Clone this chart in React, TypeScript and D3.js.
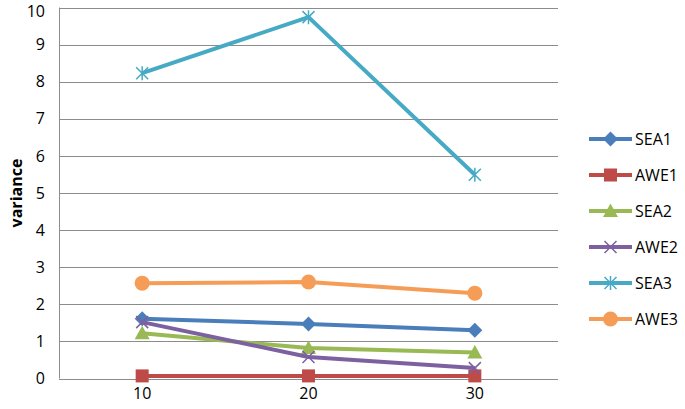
import { useEffect, useRef } from "react";
import * as d3 from "d3";

const categories = ["10", "20", "30"];
const seriesNames = ["SEA1", "AWE1", "SEA2", "AWE2", "SEA3", "AWE3"];
const sea1 = [1.61, 1.47, 1.3];
const awe1 = [0.07, 0.07, 0.07];
const sea2 = [1.22, 0.82, 0.7];
const awe2 = [1.52, 0.58, 0.28];
const sea3 = [8.23, 9.74, 5.49];
const awe3 = [2.57, 2.6, 2.3];
const yTicks = [0, 1, 2, 3, 4, 5, 6, 7, 8, 9, 10];

const colors = ["#4A7EBB", "#BE4B48", "#98B954", "#7D60A0", "#46AAC5", "#F59D56"];
const markers = ["diamond", "square", "triangle", "x", "star", "circle"];

function App() {
  const ref = useRef<HTMLDivElement>(null);

  useEffect(() => {
    const container = d3.select(ref.current);
    container.selectAll("*").remove();

    const width = 685;
    const height = 409;
    const margin = { top: 7.5, right: 127, bottom: 30.5, left: 59 };
    const font = "'Open Sans', 'Liberation Sans', sans-serif";

    const svg = container
      .append("svg")
      .attr("width", width)
      .attr("height", height)
      .style("display", "block")
      .style("background", "#fff");

    const values = [sea1, awe1, sea2, awe2, sea3, awe3];

    const x = d3
      .scalePoint()
      .domain(categories)
      .range([margin.left, width - margin.right])
      .padding(0.5);

    const y = d3
      .scaleLinear()
      .domain([0, 10])
      .range([height - margin.bottom, margin.top]);

    // gridlines
    svg
      .append("g")
      .selectAll("line")
      .data(yTicks)
      .join("line")
      .attr("x1", margin.left)
      .attr("x2", width - margin.right)
      .attr("y1", (d) => Math.round(y(d)) + 0.5)
      .attr("y2", (d) => Math.round(y(d)) + 0.5)
      .attr("stroke", "#8c8c8c")
      .attr("stroke-width", 1);

    svg
      .append("line")
      .attr("x1", margin.left + 0.5)
      .attr("x2", margin.left + 0.5)
      .attr("y1", y(10))
      .attr("y2", y(0))
      .attr("stroke", "#8c8c8c");

    // top label pushed down a little so it stays inside the page
    svg
      .append("g")
      .selectAll("text")
      .data(yTicks)
      .join("text")
      .attr("x", 45)
      .attr("y", (d) => Math.max(y(d), 11.8))
      .attr("dy", "0.35em")
      .attr("text-anchor", "end")
      .style("font-family", font)
      .style("font-size", "16px")
      .attr("fill", "#000")
      .text((d) => d);

    svg
      .append("g")
      .selectAll("text")
      .data(categories)
      .join("text")
      .attr("x", (d) => x(d)!)
      .attr("y", 399)
      .attr("text-anchor", "middle")
      .style("font-family", font)
      .style("font-size", "16px")
      .attr("fill", "#000")
      .text((d) => d);

    svg
      .append("text")
      .attr("transform", `translate(22,${(y(10) + y(0)) / 2}) rotate(-90)`)
      .attr("text-anchor", "middle")
      .style("font-family", font)
      .style("font-size", "16px")
      .style("font-weight", "bold")
      .text("variance");

    const drawMarker = (g, type, cx, cy, color) => {
      if (type === "diamond") {
        g.append("path")
          .attr("d", `M${cx},${cy - 7.5}L${cx + 7.5},${cy}L${cx},${cy + 7.5}L${cx - 7.5},${cy}Z`)
          .attr("fill", color);
      } else if (type === "square") {
        g.append("rect")
          .attr("x", cx - 6.5)
          .attr("y", cy - 6.5)
          .attr("width", 13)
          .attr("height", 13)
          .attr("fill", color);
      } else if (type === "triangle") {
        g.append("path")
          .attr("d", `M${cx},${cy - 7.5}L${cx + 7.5},${cy + 6}L${cx - 7.5},${cy + 6}Z`)
          .attr("fill", color);
      } else if (type === "x") {
        g.append("path")
          .attr("d", `M${cx - 6},${cy - 6}L${cx + 6},${cy + 6}M${cx - 6},${cy + 6}L${cx + 6},${cy - 6}`)
          .attr("stroke", color)
          .attr("stroke-width", 1.5);
      } else if (type === "star") {
        g.append("path")
          .attr("d", `M${cx - 6},${cy - 6}L${cx + 6},${cy + 6}M${cx - 6},${cy + 6}L${cx + 6},${cy - 6}M${cx},${cy - 7}L${cx},${cy + 7}`)
          .attr("stroke", color)
          .attr("stroke-width", 1.5);
      } else {
        g.append("circle").attr("cx", cx).attr("cy", cy).attr("r", 7.5).attr("fill", color);
      }
    };

    const line = d3
      .line<number>()
      .x((d, i) => x(categories[i])!)
      .y((d) => y(d));

    values.forEach((vals, si) => {
      const g = svg.append("g");
      g.append("path")
        .datum(vals)
        .attr("fill", "none")
        .attr("stroke", colors[si])
        .attr("stroke-width", 4)
        .attr("stroke-linejoin", "round")
        .attr("d", line);
      vals.forEach((v, i) => drawMarker(g, markers[si], x(categories[i])!, y(v), colors[si]));
    });

    // legend
    const legend = svg.append("g");
    seriesNames.forEach((name, i) => {
      const ly = 139 + i * 36;
      const g = legend.append("g");
      g.append("line")
        .attr("x1", 589)
        .attr("x2", 632)
        .attr("y1", ly)
        .attr("y2", ly)
        .attr("stroke", colors[i])
        .attr("stroke-width", 4);
      drawMarker(g, markers[i], 610.5, ly, colors[i]);
      g.append("text")
        .attr("x", 635)
        .attr("y", ly)
        .attr("dy", "0.35em")
        .style("font-family", font)
        .style("font-size", "16px")
        .attr("fill", "#000")
        .text(name);
    });
  }, []);

  return <div ref={ref} style={{ position: "absolute", left: 0, top: 0 }} />;
}

export default App;
